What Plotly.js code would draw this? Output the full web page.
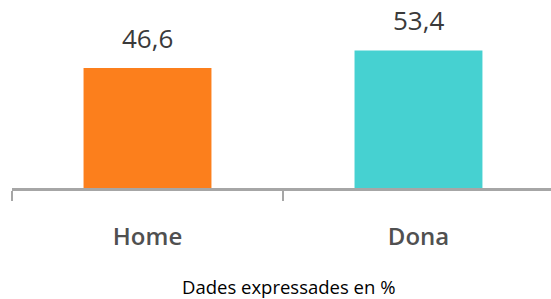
<!DOCTYPE html>
<html>
<head>
<meta charset="utf-8">
<script src="https://cdn.plot.ly/plotly-3.0.1.min.js"></script>
<style>html,body{margin:0;padding:0;background:#fff;}#chart{width:551px;height:299px;}</style>
</head>
<body>
<div id="chart"></div>
<script>
const categories = ['Home', 'Dona'];
const values = [46.6, 53.4];
const barColors = ['#FC7F1C', '#46D1D1'];
const caption = 'Dades expressades en %';

const fmt = v => v.toFixed(1).replace('.', ',');

const trace = {
  type: 'bar',
  x: categories,
  y: values,
  marker: {color: barColors, line: {width: 0}},
  width: 0.472,
  hoverinfo: 'none'
};

const annotations = categories.map((c, i) => ({
  x: c, y: values[i], xref: 'x', yref: 'y',
  text: fmt(values[i]), showarrow: false,
  yanchor: 'bottom', yshift: 10,
  font: {family: 'Open Sans', size: 26, color: '#3a3a3a'}
}));
annotations.push({
  xref: 'paper', yref: 'paper', x: 0.513, y: 0, yanchor: 'middle', yshift: -98,
  text: caption, showarrow: false,
  font: {family: 'Open Sans', size: 18.5, color: '#000000'}
});

const layout = {
  width: 551, height: 299,
  margin: {l: 12, r: 0, t: 0, b: 111},
  paper_bgcolor: '#ffffff', plot_bgcolor: '#ffffff',
  showlegend: false,
  xaxis: {
    type: 'category',
    range: [-0.5, 1.489],
    showline: true, linecolor: '#A6A6A6', linewidth: 2.5,
    ticks: 'outside', tickson: 'boundaries', ticklen: 10, tickwidth: 2.5, tickcolor: '#A6A6A6',
    ticklabelstandoff: 26,
    tickfont: {family: 'Open Sans', size: 24, color: '#505050', weight: 600},
    showgrid: false, zeroline: false, fixedrange: true
  },
  yaxis: {
    range: [0, 73], visible: false, showgrid: false, zeroline: false, fixedrange: true
  },
  annotations: annotations
};

Plotly.newPlot('chart', [trace], layout, {staticPlot: true, displayModeBar: false});
</script>
</body>
</html>
